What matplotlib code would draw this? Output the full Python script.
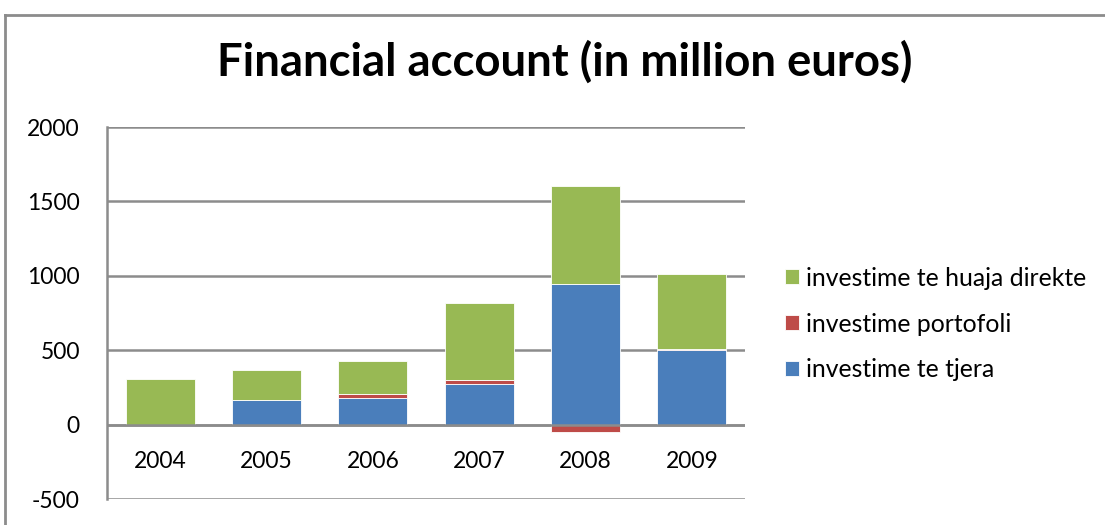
import matplotlib
matplotlib.use("Agg")
import matplotlib.pyplot as plt
from matplotlib.lines import Line2D
import numpy as np

years = ["2004", "2005", "2006", "2007", "2008", "2009"]
other_inv = [0, 163, 179, 276, 948, 498]        # investime te tjera (blue)
portfolio = [0, 0, 27, 27, -52, 12]             # investime portofoli (red)
fdi = [309, 207, 222, 515, 655, 500]            # investime te huaja direkte (green)
series_names = ["investime te tjera", "investime portofoli", "investime te huaja direkte"]
colors = ["#4A7EBB", "#BE4B48", "#98B954"]
yticks = [-500, 0, 500, 1000, 1500, 2000]

plt.rcParams['font.family'] = ['Lato', 'DejaVu Sans']

fig = plt.figure(figsize=(11.05, 5.25), dpi=100)
W, H = 1105, 525
ax = fig.add_axes([107 / W, 1 - 499 / H, (745 - 107) / W, (499 - 127) / H])

x = np.arange(len(years))
pos_bottom = np.zeros(len(years))
neg_bottom = np.zeros(len(years))
handles = []
for vals, name, c in zip([other_inv, portfolio, fdi], series_names, colors):
    v = np.array(vals, dtype=float)
    bottom = np.where(v >= 0, pos_bottom, neg_bottom)
    b = ax.bar(x, v, 0.65, bottom=bottom, color=c, edgecolor="white",
               linewidth=0.6, label=name, zorder=3)
    handles.append(b)
    pos_bottom = pos_bottom + np.where(v >= 0, v, 0)
    neg_bottom = neg_bottom + np.where(v < 0, v, 0)

ax.set_xlim(-0.5, len(years) - 0.5)
ax.set_ylim(-500, 2000)
ax.set_yticks(yticks)
ax.set_yticklabels([str(t) for t in yticks])
ax.set_xticks(x)
ax.set_xticklabels([])
for xi, lab in zip(x, years):
    ax.text(xi, -250, lab, ha="center", va="center", fontsize=16.5, color="#000000")

ax.tick_params(axis="both", length=0, labelsize=16.5, pad=19.5, colors="#000000")
ax.grid(axis="y", color="#8C8C8C", linewidth=1.8, zorder=0)
ax.axhline(0, color="#8C8C8C", linewidth=1.8, zorder=4)
for s in ["top", "right", "bottom"]:
    ax.spines[s].set_visible(False)
ax.spines["left"].set_color("#8C8C8C")
ax.spines["left"].set_linewidth(1.8)
ax.set_facecolor("none")

fig.text(565 / W, 1 - 62 / H, "Financial account (in million euros)", ha="center",
         va="center", fontsize=32.8, fontweight="bold", color="#000000")

leg = fig.legend(handles=handles[::-1], labels=series_names[::-1],
                 loc="center left", bbox_to_anchor=(785 / W, 1 - 324 / H),
                 frameon=False, fontsize=17.8, handlelength=0.55, handleheight=0.55,
                 handletextpad=0.3, labelspacing=0.93, borderaxespad=0, borderpad=0)

# outer chart frame
fig.add_artist(Line2D([5 / W, 5 / W], [0, 1 - 15 / H], transform=fig.transFigure,
                      color="#8C8C8C", linewidth=2))
fig.add_artist(Line2D([5 / W, 1], [1 - 15 / H, 1 - 15 / H], transform=fig.transFigure,
                      color="#8C8C8C", linewidth=2))

fig.savefig("out.png", dpi=100)
